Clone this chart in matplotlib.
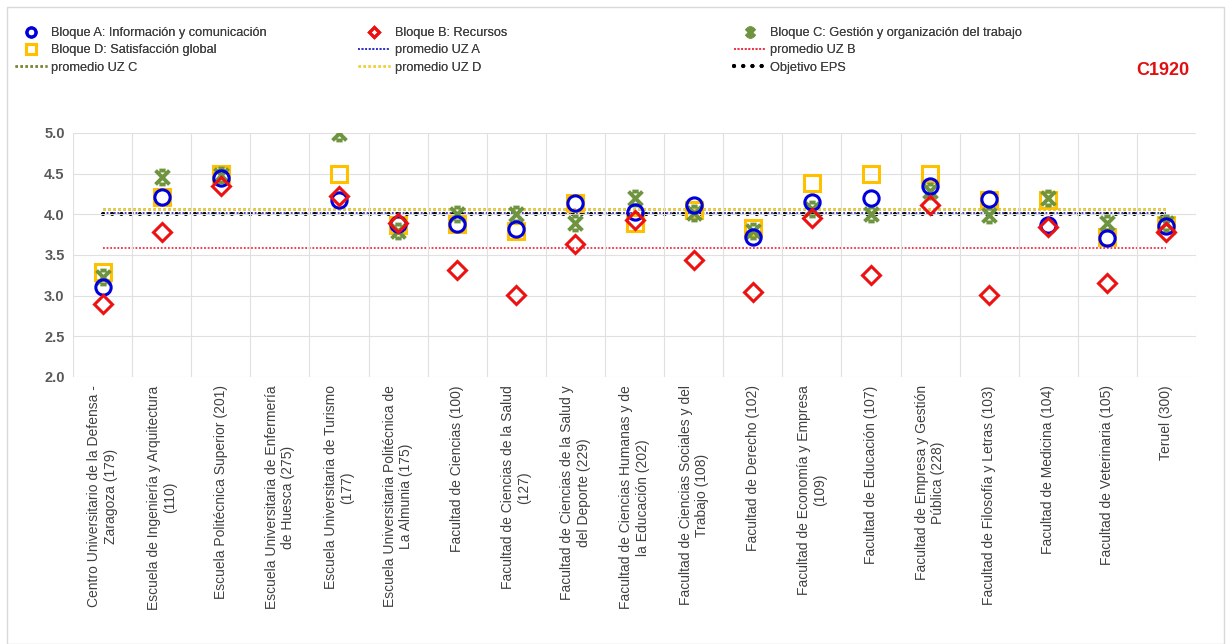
import numpy as np
import matplotlib
matplotlib.use('Agg')
from matplotlib import pyplot as plt
from matplotlib.path import Path
from matplotlib.patches import Rectangle

plt.rcParams['font.family'] = ['Liberation Sans', 'DejaVu Sans']

# ---- data ----
centros = ['Centro Universitario de la Defensa -\nZaragoza (179)',
           'Escuela de Ingeniería y Arquitectura\n(110)',
           'Escuela Politécnica Superior (201)',
           'Escuela Universitaria de Enfermería\nde Huesca (275)',
           'Escuela Universitaria de Turismo\n(177)',
           'Escuela Universitaria Politécnica de\nLa Almunia (175)',
           'Facultad de Ciencias (100)',
           'Facultad de Ciencias de la Salud\n(127)',
           'Facultad de Ciencias de la Salud y\ndel Deporte (229)',
           'Facultad de Ciencias Humanas y de\nla Educación (202)',
           'Facultad de Ciencias Sociales y del\nTrabajo (108)',
           'Facultad de Derecho (102)',
           'Facultad de Economía y Empresa\n(109)',
           'Facultad de Educación (107)',
           'Facultad de Empresa y Gestión\nPública (228)',
           'Facultad de Filosofía y Letras (103)',
           'Facultad de Medicina (104)',
           'Facultad de Veterinaria (105)',
           'Teruel (300)']

nan = np.nan
bloque_a = [3.11, 4.21, 4.44, nan, 4.18, 3.88, 3.88, 3.82, 4.14, 4.03,
            4.11, 3.72, 4.15, 4.20, 4.35, 4.19, 3.87, 3.71, 3.85]
bloque_b = [2.90, 3.78, 4.35, nan, 4.23, 3.89, 3.31, 3.01, 3.63, 3.93,
            3.44, 3.04, 3.96, 3.25, 4.11, 3.01, 3.84, 3.15, 3.78]
bloque_c = [3.23, 4.46, 4.48, nan, 5.00, 3.79, 4.00, 4.00, 3.89, 4.20,
            4.01, 3.79, 4.07, 4.00, 4.28, 3.99, 4.20, 3.89, 3.89]
bloque_d = [3.29, 4.21, 4.50, nan, 4.50, 3.87, 3.88, 3.79, 4.14, 3.89,
            4.05, 3.83, 4.39, 4.50, 4.50, 4.17, 4.18, 3.72, 3.87]

prom_a = 4.01
prom_b = 3.59
prom_c = 4.07
prom_d = 4.06
objetivo = 4.0

# star marker like the spreadsheet one: X with short bars top and bottom
star = Path([(-1, -1), (1, 1), (-1, 1), (1, -1), (-0.45, 1), (0.45, 1), (-0.45, -1), (0.45, -1)],
            [Path.MOVETO, Path.LINETO, Path.MOVETO, Path.LINETO,
             Path.MOVETO, Path.LINETO, Path.MOVETO, Path.LINETO])

fig = plt.figure(figsize=(12.31, 6.44), dpi=100)
ax = fig.add_axes([0.0593, 0.4146, 0.9123, 0.379])

x = np.arange(len(centros))
ax.plot(x, bloque_a, 'o', ms=11, mfc='none', mec='#0000DD', mew=2.2, ls='none',
        label='Bloque A: Información y comunicación', zorder=4)
ax.plot(x, bloque_b, 'D', ms=9, mfc='none', mec='#EE1111', mew=2.2, ls='none',
        label='Bloque B: Recursos', zorder=5)
ax.plot(x, bloque_c, marker=star, ms=10, mfc='none', mec='#6E9440', mew=2.8, ls='none',
        label='Bloque C: Gestión y organización del trabajo', zorder=3)
ax.plot(x, bloque_d, 's', ms=12, mfc='none', mec='#FFC000', mew=2.2, ls='none',
        label='Bloque D: Satisfacción global', zorder=2)

xl = [x[0], x[-1]]
ax.plot(xl, [prom_a] * 2, ls=(0, (1, 1)), lw=1.3, color='#3333CC', label='promedio UZ A', zorder=1)
ax.plot(xl, [prom_b] * 2, ls=(0, (1, 1)), lw=1.3, color='#EE3344', label='promedio UZ B', zorder=1)
ax.plot(xl, [prom_c] * 2, ls=(0, (1, 1)), lw=1.8, color='#7A8A3A', label='promedio UZ C', zorder=1)
ax.plot(xl, [prom_d] * 2, ls=(0, (1, 1)), lw=1.8, color='#F2D040', label='promedio UZ D', zorder=1)
ax.plot(xl, [objetivo] * 2, ls=(0, (0.01, 2.2)), lw=3.0, color='black', dash_capstyle='round',
        label='Objetivo EPS', zorder=1)

ax.set_xlim(-0.5, len(centros) - 0.5)
ax.set_ylim(2.0, 5.0)
ax.set_yticks(np.arange(2.0, 5.01, 0.5))
ax.set_yticklabels(['%.1f' % v for v in np.arange(2.0, 5.01, 0.5)],
                   fontsize=10.5, color='#595959', fontweight='bold')
ax.set_xticks(x)
ax.set_xticklabels(centros, rotation=90, fontsize=10, color='#404040',
                   va='top', ha='center', multialignment='center')
ax.set_xticks(np.arange(-0.5, len(centros)), minor=True)
ax.tick_params(axis='both', which='both', length=0, pad=6)
ax.grid(True, which='minor', axis='x', color='#E0E0E0', lw=0.8)
ax.grid(True, which='major', axis='y', color='#E0E0E0', lw=0.8)
for s in ax.spines.values():
    s.set_visible(False)

h, l = ax.get_legend_handles_labels()
# legend laid out row-wise: A B C / D UZA UZB / UZC UZD Obj
cols = [[0, 3, 6], [1, 4, 7], [2, 5, 8]]
col_x = [0.008, 0.287, 0.592]
for c, cx in zip(cols, col_x):
    leg = fig.legend([h[i] for i in c], [l[i] for i in c], ncol=1,
                     loc='upper left', bbox_to_anchor=(cx, 0.966), frameon=False,
                     fontsize=9.2, handlelength=2.5, labelspacing=0.42, markerscale=0.6,
                     handletextpad=0.35, labelcolor='#404040', borderaxespad=0)
    fig.add_artist(leg)

fig.text(0.945, 0.89, 'C1920', color='#E01010', fontsize=13, fontweight='bold',
         ha='center', va='center')

fig.patches.append(Rectangle((0.006, 0.0), 0.988, 0.989, transform=fig.transFigure,
                             fill=False, ec='#D9D9D9', lw=1))

fig.savefig('out.png', dpi=100)
